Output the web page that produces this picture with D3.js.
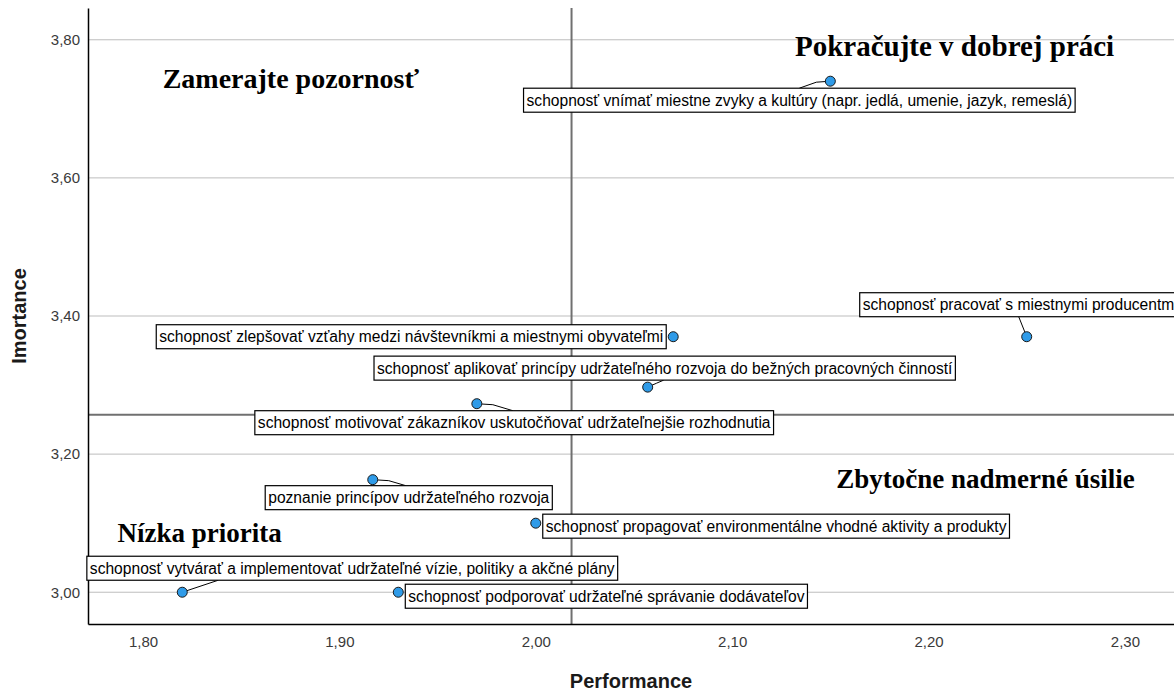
<!DOCTYPE html>
<html>
<head>
<meta charset="utf-8">
<script src="https://cdn.jsdelivr.net/npm/d3@7/dist/d3.min.js"></script>
<style>
  body { margin: 0; background: #fff; }
  #chart svg { display: block; }
</style>
</head>
<body>
<div id="chart"></div>
<script>
// Datos: competencias (Performance / Importance)
const labels = [
    "schopnosť vnímať miestne zvyky a kultúry (napr. jedlá, umenie, jazyk, remeslá)",
    "schopnosť pracovať s miestnymi producentmi",
    "schopnosť zlepšovať vzťahy medzi návštevníkmi a miestnymi obyvateľmi",
    "schopnosť aplikovať princípy udržateľného rozvoja do bežných pracovných činností",
    "schopnosť motivovať zákazníkov uskutočňovať udržateľnejšie rozhodnutia",
    "poznanie princípov udržateľného rozvoja",
    "schopnosť propagovať environmentálne vhodné aktivity a produkty",
    "schopnosť vytvárať a implementovať udržateľné vízie, politiky a akčné plány",
    "schopnosť podporovať udržateľné správanie dodávateľov"
];
const performance = [2.15, 2.25, 2.07, 2.057, 1.97, 1.917, 2.00, 1.82, 1.93];
const importance  = [3.74, 3.37, 3.37, 3.297, 3.273, 3.163, 3.10, 3.00, 3.00];

const xTicks = [1.80, 1.90, 2.00, 2.10, 2.20, 2.30];
const yTicks = [3.00, 3.20, 3.40, 3.60, 3.80];

const quadrantTitles = ["Zamerajte pozornosť", "Pokračujte v dobrej práci", "Zbytočne nadmerné úsilie", "Nízka priorita"];

// Ubicación de las etiquetas (layout, relativo al punto)
// ax/ay: ancla de la caja (0 izq/arriba, 1 der/abajo), dx/dy: desplazamiento en px
const labelLayout = [
    { ax: 0.5, ay: 0,   dx: -31,  dy: 7,   leader: [[0, 0], [-14, 1], [-31, 7]] },
    { ax: 0,   ay: 1,   dx: -167, dy: -20, leader: [[0, 0], [-8, -20]] },
    { ax: 1,   ay: 0.5, dx: -7,   dy: 0,   leader: null },
    { ax: 0.5, ay: 1,   dx: 17,   dy: -7,  leader: [[0, 0], [9, -4], [16, -7]] },
    { ax: 0,   ay: 0,   dx: -222, dy: 7,   leader: [[0, 0], [16, 1], [36, 7]] },
    { ax: 0.5, ay: 0,   dx: 36,   dy: 6,   leader: [[0, 0], [16, 1], [33, 6]] },
    { ax: 0,   ay: 0.5, dx: 7,    dy: 3,   leader: null },
    { ax: 0.5, ay: 1,   dx: 170,  dy: -12, leader: [[0, 0], [36, -12]] },
    { ax: 0,   ay: 0.5, dx: 7,    dy: 4,   leader: null }
];
// Posición y tamaño de los títulos de cuadrante (en unidades de los ejes)
const titlePos = [[1.810, 3.730], [2.132, 3.777], [2.153, 3.151], [1.787, 3.073]];
const titleSize = [28, 29, 27, 27];

const data = labels.map((l, i) => ({ label: l, perf: performance[i], imp: importance[i] }));

// Configuración del gráfico
const W = 1174, H = 693;
const margin = { top: 8, right: 0, bottom: 69, left: 88 };
const width = W - margin.left - margin.right;
const height = H - margin.top - margin.bottom;

const svg = d3.select("#chart").append("svg")
    .attr("width", W)
    .attr("height", H);
const g = svg.append("g")
    .attr("transform", `translate(${margin.left},${margin.top})`);

const x = d3.scaleLinear().domain([1.772, 2.325]).range([0, width]);
const y = d3.scaleLinear().domain([2.954, 3.846]).range([height, 0]);
const fmt = d => d3.format(".2f")(d).replace(".", ",");

// Líneas de cuadrícula horizontales
g.selectAll(".grid")
    .data(yTicks)
    .enter().append("line")
    .attr("class", "grid")
    .attr("x1", 0).attr("x2", width)
    .attr("y1", d => y(d)).attr("y2", d => y(d))
    .attr("stroke", "#bdbdbd")
    .attr("stroke-width", 1);

// Líneas de referencia (promedios)
const meanX = d3.mean(performance);
const meanY = d3.mean(importance);
g.append("line")
    .attr("x1", x(meanX)).attr("x2", x(meanX))
    .attr("y1", 0).attr("y2", height)
    .attr("stroke", "#707070").attr("stroke-width", 2);
g.append("line")
    .attr("x1", 0).attr("x2", width)
    .attr("y1", y(meanY)).attr("y2", y(meanY))
    .attr("stroke", "#707070").attr("stroke-width", 2);

// Ejes
const xAxis = d3.axisBottom(x).tickValues(xTicks).tickFormat(fmt).tickSize(0).tickPadding(12);
const yAxis = d3.axisLeft(y).tickValues(yTicks).tickFormat(fmt).tickSize(0).tickPadding(8);

const gx = g.append("g")
    .attr("transform", `translate(0,${height})`)
    .call(xAxis);
const gy = g.append("g").call(yAxis);

[gx, gy].forEach(a => {
    a.select(".domain").attr("stroke", "#000").attr("stroke-width", 1.5);
    a.selectAll("text")
        .attr("font-family", "Liberation Sans, Arial, sans-serif")
        .attr("font-size", 15)
        .attr("fill", "#3a3a3a");
});

// Títulos de ejes
svg.append("text")
    .attr("x", margin.left + width / 2)
    .attr("y", 688)
    .attr("text-anchor", "middle")
    .attr("font-family", "Liberation Sans, Arial, sans-serif")
    .attr("font-weight", "bold")
    .attr("font-size", 20)
    .attr("fill", "#1a1a1a")
    .text("Performance");

svg.append("text")
    .attr("transform", `translate(26,${margin.top + height / 2}) rotate(-90)`)
    .attr("text-anchor", "middle")
    .attr("font-family", "Liberation Sans, Arial, sans-serif")
    .attr("font-weight", "bold")
    .attr("font-size", 20)
    .attr("fill", "#1a1a1a")
    .text("Imortance");

// Títulos de cuadrantes
g.selectAll(".qtitle")
    .data(quadrantTitles)
    .enter().append("text")
    .attr("class", "qtitle")
    .attr("x", (d, i) => x(titlePos[i][0]))
    .attr("y", (d, i) => y(titlePos[i][1]))
    .attr("font-family", "Liberation Serif, Times New Roman, serif")
    .attr("font-weight", "bold")
    .attr("font-size", (d, i) => titleSize[i])
    .attr("fill", "#000")
    .text(d => d);

// Líneas guía de etiquetas
g.selectAll(".leader")
    .data(data.filter((d, i) => labelLayout[i].leader))
    .enter().append("polyline")
    .attr("class", "leader")
    .attr("points", d => {
        const i = data.indexOf(d);
        return labelLayout[i].leader.map(p => [x(d.perf) + p[0], y(d.imp) + p[1]].join(",")).join(" ");
    })
    .attr("fill", "none")
    .attr("stroke", "#000")
    .attr("stroke-width", 1);

// Etiquetas con caja
const lab = g.selectAll(".lab")
    .data(data)
    .enter().append("g")
    .attr("class", "lab");

const boxH = 24;
lab.each(function(d, i) {
    const el = d3.select(this);
    const t = el.append("text")
        .attr("font-family", "Liberation Sans, Arial, sans-serif")
        .attr("font-size", 15.6)
        .attr("fill", "#000")
        .text(d.label);
    const len = t.node().getComputedTextLength();
    const bw = len + 6;
    const L = labelLayout[i];
    const bx = x(d.perf) + L.dx - L.ax * bw;
    const by = y(d.imp) + L.dy - L.ay * boxH;
    el.insert("rect", "text")
        .attr("x", bx).attr("y", by)
        .attr("width", bw).attr("height", boxH)
        .attr("fill", "#fff")
        .attr("stroke", "#000")
        .attr("stroke-width", 1.2);
    t.attr("x", bx + 3).attr("y", by + boxH / 2).attr("dy", "0.35em");
});

// Puntos
g.selectAll(".dot")
    .data(data)
    .enter().append("circle")
    .attr("class", "dot")
    .attr("cx", d => x(d.perf))
    .attr("cy", d => y(d.imp))
    .attr("r", 5)
    .attr("fill", "#2f9be8")
    .attr("stroke", "#1a1a1a")
    .attr("stroke-width", 1);
</script>
</body>
</html>
